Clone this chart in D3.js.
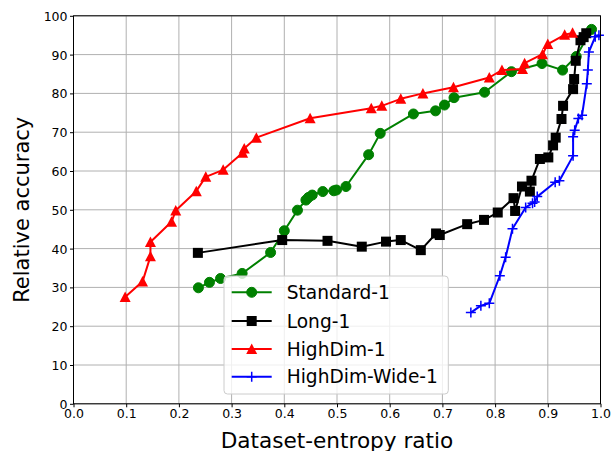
<!DOCTYPE html>
<html><head><meta charset="utf-8">
<script src="https://cdn.jsdelivr.net/npm/d3@7"></script>
<style>body{margin:0;background:#fff}svg{display:block;font-family:"DejaVu Sans",sans-serif}</style>
</head><body><svg id="c" width="613" height="451"></svg>
<script>
const xTicks = [0,0.1,0.2,0.3,0.4,0.5,0.6,0.7,0.8,0.9,1.0];
const yTicks = [0,10,20,30,40,50,60,70,80,90,100];
const seriesNames = ["Standard-1","Long-1","HighDim-1","HighDim-Wide-1"];
const standardX = [0.237,0.258,0.279,0.320,0.374,0.400,0.425,0.441,0.446,0.453,0.473,0.494,0.499,0.517,0.560,0.582,0.645,0.687,0.704,0.722,0.780,0.831,0.889,0.928,0.954,0.983];
const standardY = [29.9,31.3,32.3,33.6,39.0,44.6,49.9,52.5,53.2,53.8,54.7,54.9,55.1,56.0,64.2,69.7,74.7,75.5,77.0,78.9,80.3,85.6,87.7,86.0,89.5,96.5];
const longX = [0.236,0.396,0.482,0.547,0.593,0.621,0.659,0.688,0.695,0.747,0.779,0.805,0.835,0.838,0.851,0.866,0.869,0.885,0.901,0.910,0.915,0.926,0.929,0.948,0.950,0.953,0.962,0.968,0.973];
const longY = [38.9,42.2,42.0,40.5,41.8,42.2,39.6,43.9,43.5,46.3,47.4,49.3,53.0,49.7,56.0,54.7,57.5,63.1,63.5,66.6,68.6,73.4,76.8,81.1,83.7,88.4,93.7,94.5,95.5];
const highDimX = [0.098,0.131,0.146,0.146,0.186,0.194,0.233,0.251,0.284,0.321,0.324,0.347,0.449,0.565,0.585,0.621,0.663,0.721,0.789,0.813,0.852,0.856,0.890,0.900,0.932,0.947];
const highDimY = [27.5,31.5,38.0,41.7,46.9,49.8,54.8,58.5,60.3,64.7,65.8,68.6,73.6,76.2,76.8,78.6,80.0,81.6,84.1,86.0,86.3,87.8,90.1,92.7,95.1,95.6];
const wideX = [0.754,0.773,0.789,0.809,0.820,0.833,0.858,0.871,0.875,0.880,0.914,0.922,0.948,0.948,0.951,0.958,0.965,0.974,0.976,0.978,0.990,0.997];
const wideY = [23.5,25.3,25.9,33.0,37.8,45.1,50.6,51.7,52.0,53.4,57.1,57.5,63.9,68.8,70.5,73.5,74.4,82.5,86.0,90.7,94.6,95.0];
const colors = ["#008000","#000000","#ff0000","#0000ff"];
const markers = ["circle","square","triangle","plus"];

const svg = d3.select("#c");
const L=73.5,R=600.5,T=15.8,B=403.8;
const x = d3.scaleLinear().domain([0,1]).range([L,R]);
const y = d3.scaleLinear().domain([0,100]).range([B,T]);

// grid
const g = svg.append("g");
g.selectAll(".gx").data(xTicks).join("line").attr("x1",d=>x(d)).attr("x2",d=>x(d)).attr("y1",T).attr("y2",B).attr("stroke","#b0b0b0").attr("stroke-width",1);
g.selectAll(".gy").data(yTicks).join("line").attr("y1",d=>y(d)).attr("y2",d=>y(d)).attr("x1",L).attr("x2",R).attr("stroke","#b0b0b0").attr("stroke-width",1);

// axes
const xa = svg.append("g").attr("transform",`translate(0,${B})`).call(d3.axisBottom(x).tickValues(xTicks).tickFormat(d3.format(".1f")).tickSize(3.5).tickSizeOuter(0));
const ya = svg.append("g").attr("transform",`translate(${L},0)`).call(d3.axisLeft(y).tickValues(yTicks).tickFormat(d3.format("d")).tickSize(3.5).tickSizeOuter(0));
[xa,ya].forEach(a=>{a.select(".domain").remove();a.selectAll("text").attr("font-family","DejaVu Sans").attr("font-size",12.5).attr("fill","#000");a.selectAll("line").attr("stroke","#000").attr("stroke-width",1);});
xa.selectAll("text").attr("dy",0).attr("y",14.3);
ya.selectAll("text").attr("x",-6).attr("dy","0.36em");

const seriesX=[standardX,longX,highDimX,wideX], seriesY=[standardY,longY,highDimY,wideY];
function drawMarker(sel,type,color){
  if(type==="circle") sel.append("circle").attr("r",5).attr("fill",color).attr("stroke",color);
  else if(type==="square") sel.append("rect").attr("x",-5).attr("y",-5).attr("width",10).attr("height",10).attr("fill",color);
  else if(type==="triangle") sel.append("path").attr("d","M0,-5.5L-5.5,5L5.5,5Z").attr("fill",color);
  else sel.append("path").attr("d","M-5,0H5M0,-5V5").attr("stroke",color).attr("stroke-width",1.5).attr("fill","none");
}
const line = d3.line().x(d=>x(d[0])).y(d=>y(d[1]));
const clip = svg.append("clipPath").attr("id","pc").append("rect").attr("x",L-8).attr("y",T-8).attr("width",R-L+16).attr("height",B-T+16);
seriesX.forEach((xs,i)=>{
  const pts = xs.map((v,j)=>[v,seriesY[i][j]]);
  const sg = svg.append("g");
  sg.append("path").datum(pts).attr("d",line).attr("fill","none").attr("stroke",colors[i]).attr("stroke-width",2).attr("stroke-linejoin","round");
  pts.forEach(p=>{drawMarker(sg.append("g").attr("transform",`translate(${x(p[0])},${y(p[1])})`),markers[i],colors[i]);});
});

// frame
svg.append("rect").attr("x",L).attr("y",T).attr("width",R-L).attr("height",B-T).attr("fill","none").attr("stroke","#000").attr("stroke-width",1);

// labels
svg.append("text").attr("x",(L+R)/2).attr("y",447.5).attr("text-anchor","middle").attr("font-size",21.6).text("Dataset-entropy ratio");
svg.append("text").attr("transform",`translate(28.5,${(T+B)/2}) rotate(-90)`).attr("text-anchor","middle").attr("font-size",21).text("Relative accuracy");

// legend
const lg = svg.append("g");
lg.append("rect").attr("x",224).attr("y",276).attr("width",224.3).attr("height",118).attr("rx",3.5).attr("fill","#fff").attr("fill-opacity",0.8).attr("stroke","#cccccc").attr("stroke-width",1);
const ly=[292.3,321,349,376.7];
seriesNames.forEach((n,i)=>{
  lg.append("line").attr("x1",231.7).attr("x2",271.7).attr("y1",ly[i]).attr("y2",ly[i]).attr("stroke",colors[i]).attr("stroke-width",2);
  drawMarker(lg.append("g").attr("transform",`translate(251.7,${ly[i]})`),markers[i],colors[i]);
  lg.append("text").attr("x",286.7).attr("y",ly[i]).attr("dy","0.36em").attr("font-size",18.6).text(n);
});
</script></body></html>
